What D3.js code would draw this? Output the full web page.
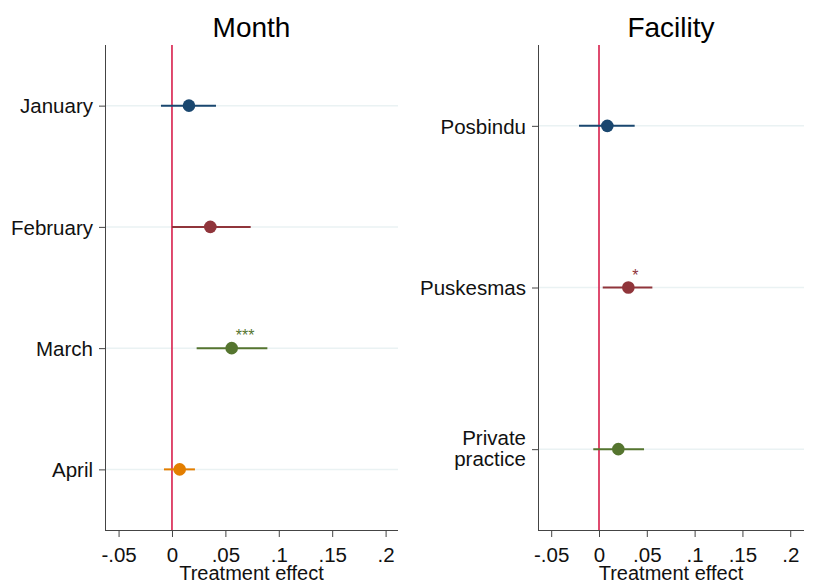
<!DOCTYPE html>
<html>
<head>
<meta charset="utf-8">
<script src="https://cdn.jsdelivr.net/npm/d3@7"></script>
<style>
  body { margin: 0; background: #fff; }
  svg { display: block; font-family: "Liberation Sans", Arial, sans-serif; }
</style>
</head>
<body>
<svg id="chart" width="813" height="584"></svg>
<script>
// Treatment effects by month
const monthCats = ["January", "February", "March", "April"];
const monthEst = [0.0159, 0.0359, 0.0559, 0.0072];
const monthLo = [-0.0103, 0.0000, 0.0231, -0.0075];
const monthHi = [0.0412, 0.0737, 0.0893, 0.0215];
const monthStars = ["", "", "***", ""];

// Treatment effects by facility type
const facCats = ["Posbindu", "Puskesmas", "Private practice"];
const facEst = [0.0087, 0.0307, 0.0202];
const facLo = [-0.0209, 0.0039, -0.0060];
const facHi = [0.0373, 0.0558, 0.0471];
const facStars = ["", "*", ""];

const xTicks = [-0.05, 0, 0.05, 0.1, 0.15, 0.2];
const xTickLabels = ["-.05", "0", ".05", ".1", ".15", ".2"];
const colors = ["#1a476f", "#90353b", "#55752f", "#e37e00"];

const svg = d3.select("#chart");
const labelSize = 20.5;

function panel(opts) {
  const { title, cats, est, lo, hi, stars, left, right, top, bottom, domain } = opts;
  const g = svg.append("g");
  const x = d3.scaleLinear().domain(domain).range([left, right]);
  const y = d3.scalePoint().domain(cats).range([top, bottom]).padding(0.5);

  // Gridlines
  g.selectAll("line.grid").data(cats).join("line")
    .attr("x1", left).attr("x2", right)
    .attr("y1", d => y(d)).attr("y2", d => y(d))
    .attr("stroke", "#eaf2f3").attr("stroke-width", 1.5);

  // Zero reference line
  g.append("line")
    .attr("x1", x(0)).attr("x2", x(0))
    .attr("y1", top).attr("y2", bottom)
    .attr("stroke", "#d81f4b").attr("stroke-width", 1.6);

  // Confidence intervals
  g.selectAll("line.ci").data(cats).join("line")
    .attr("x1", (d, i) => x(lo[i])).attr("x2", (d, i) => x(hi[i]))
    .attr("y1", d => y(d)).attr("y2", d => y(d))
    .attr("stroke", (d, i) => colors[i]).attr("stroke-width", 2);

  // Point estimates
  g.selectAll("circle.pt").data(cats).join("circle")
    .attr("cx", (d, i) => x(est[i])).attr("cy", d => y(d))
    .attr("r", 6.3)
    .attr("fill", (d, i) => colors[i]);

  // Significance stars
  g.selectAll("text.star").data(cats).join("text")
    .attr("x", (d, i) => x(est[i]) + 4).attr("y", d => y(d) - 7)
    .attr("text-anchor", "start")
    .attr("font-size", 16)
    .attr("fill", (d, i) => colors[i])
    .text((d, i) => stars[i]);

  // Axes
  const xAxis = d3.axisBottom(x).tickValues(xTicks)
    .tickFormat((d, i) => xTickLabels[i]).tickSize(7).tickSizeOuter(0).tickPadding(10);
  const gx = g.append("g").attr("transform", `translate(0,${bottom})`).call(xAxis);
  gx.select(".domain").attr("stroke", "#444").attr("d", `M${left},0.5H${right}`);
  gx.selectAll(".tick line").attr("stroke", "#444");
  gx.selectAll(".tick text").attr("font-size", labelSize).attr("fill", "#111")
    .attr("font-family", "Liberation Sans, Arial, sans-serif");

  const yAxis = d3.axisLeft(y).tickSize(6).tickSizeOuter(0).tickPadding(5).tickFormat("");
  const gy = g.append("g").attr("transform", `translate(${left},0)`).call(yAxis);
  gy.select(".domain").attr("stroke", "#444").attr("d", `M0.5,${top}V${bottom}`);
  gy.selectAll(".tick line").attr("stroke", "#444");
  gy.selectAll(".tick").each(function (d) {
    const words = d.split(" ");
    const t = d3.select(this).append("text")
      .attr("x", -12).attr("text-anchor", "end")
      .attr("font-size", labelSize).attr("fill", "#111")
      .attr("font-family", "Liberation Sans, Arial, sans-serif");
    if (words.length === 1) {
      t.attr("dy", "0.35em").text(d);
    } else {
      words.forEach((w, k) => {
        t.append("tspan").attr("x", -12)
          .attr("y", (k - (words.length - 1) / 2) * 21 - 1)
          .attr("dy", "0.35em").text(w);
      });
    }
  });

  // Titles
  g.append("text").attr("x", (left + right) / 2).attr("y", 37)
    .attr("text-anchor", "middle").attr("font-size", 28).attr("fill", "#000")
    .text(title);
  g.append("text").attr("x", (left + right) / 2).attr("y", 579.5)
    .attr("text-anchor", "middle").attr("font-size", 20).attr("fill", "#111")
    .text("Treatment effect");
}

panel({
  title: "Month", cats: monthCats, est: monthEst, lo: monthLo, hi: monthHi, stars: monthStars,
  left: 105, right: 398, top: 45, bottom: 530, domain: [-0.0627, 0.2116]
});
panel({
  title: "Facility", cats: facCats, est: facEst, lo: facLo, hi: facHi, stars: facStars,
  left: 538, right: 804, top: 45, bottom: 530, domain: [-0.0638, 0.2144]
});
</script>
</body>
</html>
